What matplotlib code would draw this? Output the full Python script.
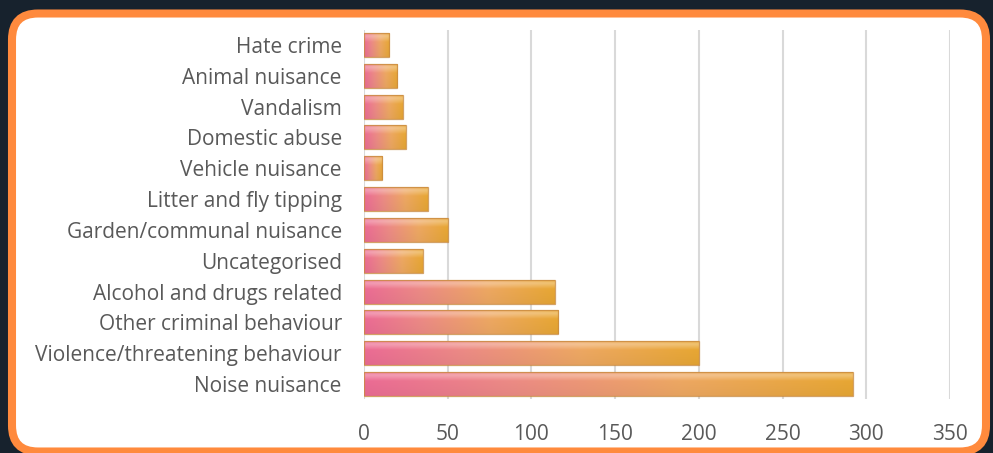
import numpy as np
import matplotlib
matplotlib.use('Agg')
import matplotlib.pyplot as plt
from matplotlib.patches import FancyBboxPatch
from matplotlib.transforms import IdentityTransform
from matplotlib.colors import LinearSegmentedColormap

categories = ['Hate crime', 'Animal nuisance', 'Vandalism', 'Domestic abuse',
              'Vehicle nuisance', 'Litter and fly tipping', 'Garden/communal nuisance',
              'Uncategorised', 'Alcohol and drugs related', 'Other criminal behaviour',
              'Violence/threatening behaviour', 'Noise nuisance']
values = [15, 20, 23, 25, 11, 38, 50, 35, 114, 116, 200, 292]
xticks = [0, 50, 100, 150, 200, 250, 300, 350]

plt.rcParams['font.family'] = ['Open Sans', 'DejaVu Sans']

fig = plt.figure(figsize=(9.93, 4.53), dpi=100)
fig.patch.set_facecolor('#17222d')

# rounded white panel with orange border (pixel coords, origin bottom-left)
W, H = 993.0, 453.0
panel = FancyBboxPatch((12, 1.5), 974, 438,
                       boxstyle='round,pad=0,rounding_size=26',
                       transform=IdentityTransform(), facecolor='white',
                       edgecolor='#ff8a3d', linewidth=5.8, zorder=-1)
fig.patches.append(panel)

ax = fig.add_axes([364 / W, 1 - 399.4 / H, (950 - 364) / W, (399.4 - 29.6) / H])
ax.set_facecolor('none')
ax.set_zorder(1)

y = np.arange(len(categories))
bars = ax.barh(y, values, height=0.78, color='none', edgecolor='#c98a40',
               linewidth=0.9, alpha=0.8, zorder=3)

# pink -> orange gradient, lighter in upper part
cmap = LinearSegmentedColormap.from_list(
    'po', [(0, '#f4709a'), (0.3, '#f5908a'), (0.65, '#f6ae66'), (1, '#f0ad36')])
nx, ny = 200, 24
gx = np.linspace(0, 1, nx)
base = cmap(gx)[:, :3]
shade = np.concatenate([np.linspace(0.97, 0.97, 6), np.linspace(0.97, 0.93, ny - 6)])
light = np.concatenate([np.linspace(0.05, 0.28, 4), np.linspace(0.28, 0.0, 6), np.zeros(ny - 10)])
img = base[None, :, :] * shade[:, None, None]
img = img + (1 - img) * light[:, None, None]
img = np.clip(img, 0, 1)

for b in bars:
    x0, y0 = b.get_x(), b.get_y()
    w, h = b.get_width(), b.get_height()
    im = ax.imshow(img, extent=(x0, x0 + w, y0 + h, y0), aspect='auto',
                   zorder=2, interpolation='bilinear')
    im.set_clip_path(b)

ax.set_xlim(0, 350)
ax.set_ylim(len(categories) - 0.5, -0.5)
ax.set_xticks(xticks)
ax.set_yticks(y)
ax.set_yticklabels(categories)
ax.grid(axis='x', color='#d9d9d9', linewidth=1.5, zorder=1)
ax.set_axisbelow(True)
for s in ax.spines.values():
    s.set_visible(False)
ax.tick_params(axis='both', length=0, labelsize=15, labelcolor='#595959')
ax.tick_params(axis='x', pad=18)
ax.tick_params(axis='y', pad=16)

fig.savefig('out.png', dpi=100, facecolor=fig.get_facecolor())
